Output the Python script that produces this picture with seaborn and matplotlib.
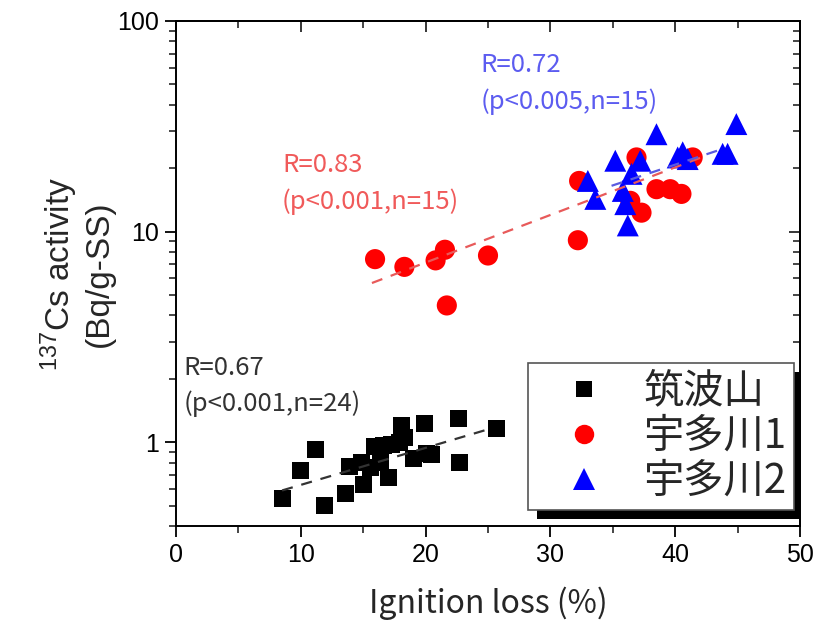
import numpy as np
import pandas as pd
import matplotlib
matplotlib.use("Agg")
import matplotlib.pyplot as plt
import seaborn as sns
from matplotlib.lines import Line2D
from matplotlib.patches import Rectangle
from matplotlib.transforms import IdentityTransform
from matplotlib.ticker import LogLocator, FixedLocator, NullFormatter

# ---------------- data ----------------
groups = ["筑波山", "宇多川1", "宇多川2"]

tsukuba_x = [8.5, 10.0, 11.2, 11.9, 13.6, 13.9, 15.0, 14.9, 15.9, 16.4, 16.6, 17.0,
             17.3, 18.1, 17.9, 19.0, 19.9, 20.5, 20.1, 22.6, 22.7, 25.7, 15.6, 18.3]
tsukuba_y = [0.54, 0.73, 0.92, 0.50, 0.57, 0.77, 0.63, 0.80, 0.95, 0.80, 0.96, 0.68,
             0.97, 1.20, 1.00, 0.84, 1.23, 0.87, 0.88, 1.29, 0.80, 1.16, 0.76, 1.05]

uda1_x = [15.95, 18.3, 20.8, 21.55, 21.7, 25.0, 32.2, 32.3, 36.9, 38.5, 39.6, 40.5,
          41.4, 37.3, 36.4]
uda1_y = [7.4, 6.8, 7.3, 8.2, 4.46, 7.7, 9.1, 17.4, 22.5, 15.9, 15.9, 15.1,
          22.5, 12.3, 14.0]

uda2_x = [33.0, 33.6, 35.2, 37.2, 36.5, 35.8, 36.0, 36.2, 38.5, 40.6, 41.0, 43.8,
          44.2, 44.9, 40.2]
uda2_y = [17.4, 14.3, 21.7, 21.7, 18.8, 15.6, 13.5, 10.7, 29.0, 23.8, 22.1, 23.4,
          23.4, 32.4, 22.5]

# regression line end points
line_x = {"筑波山": [8.5, 25.2], "宇多川1": [15.7, 42.0], "宇多川2": [34.9, 43.8]}
line_y = {"筑波山": [0.59, 1.16], "宇多川1": [5.7, 22.4], "宇多川2": [16.5, 24.7]}

stats_text = {
    "筑波山": ("R=0.67", "(p<0.001,n=24)"),
    "宇多川1": ("R=0.83", "(p<0.001,n=15)"),
    "宇多川2": ("R=0.72", "(p<0.005,n=15)"),
}
text_pos = {"筑波山": (0.6, 2.25, 1.52), "宇多川1": (8.5, 20.6, 13.8), "宇多川2": (24.4, 62.0, 41.5)}

x_ticks = [0, 10, 20, 30, 40, 50]
y_ticks = [1, 10, 100]
y_ticklabels = ["1", "10", "100"]

# ---------------- style ----------------
marker_col = {"筑波山": "#000000", "宇多川1": "#FF0000", "宇多川2": "#0000FF"}
line_col = {"筑波山": "#333333", "宇多川1": "#E85A5A", "宇多川2": "#5A5AE0"}
text_col = {"筑波山": "#333333", "宇多川1": "#F05A5A", "宇多川2": "#5C5CF0"}
markers = {"筑波山": "s", "宇多川1": "o", "宇多川2": "^"}
sizes = {"筑波山": 150, "宇多川1": 210, "宇多川2": 250}

sns.set_theme(style="ticks")
plt.rcParams["font.family"] = ["Liberation Sans", "Noto Sans CJK JP", "DejaVu Sans"]
cjk = ["Noto Sans CJK JP", "DejaVu Sans"]

df = pd.concat([
    pd.DataFrame({"x": tsukuba_x, "y": tsukuba_y, "site": groups[0]}),
    pd.DataFrame({"x": uda1_x, "y": uda1_y, "site": groups[1]}),
    pd.DataFrame({"x": uda2_x, "y": uda2_y, "site": groups[2]}),
], ignore_index=True)

fig = plt.figure(figsize=(8.2, 6.34), dpi=100)
ax = fig.add_axes([176 / 820, 1 - 526 / 634, 624 / 820, 505 / 634])
ax.set_yscale("log")

for g in groups:
    sub = df[df["site"] == g]
    sns.scatterplot(data=sub, x="x", y="y", marker=markers[g], color=marker_col[g],
                    s=sizes[g], edgecolor="none", linewidth=0, legend=False, ax=ax, zorder=3)

for g in groups:
    lx = pd.DataFrame({"x": line_x[g], "y": line_y[g]})
    sns.lineplot(data=lx, x="x", y="y", color=line_col[g], linestyle=(0, (5, 4)),
                 linewidth=1.6, ax=ax, zorder=4)

for g in groups:
    tx, ty1, ty2 = text_pos[g]
    ax.text(tx, ty1, stats_text[g][0], color=text_col[g], fontsize=18.5, family=cjk,
            ha="left", va="center")
    ax.text(tx, ty2, stats_text[g][1], color=text_col[g], fontsize=18.5, family=cjk,
            ha="left", va="center")

ax.set_xlim(0, 50)
ax.set_ylim(0.4, 100)
ax.xaxis.set_major_locator(FixedLocator(x_ticks))
ax.xaxis.set_minor_locator(FixedLocator([5, 15, 25, 35, 45]))
ax.yaxis.set_major_locator(FixedLocator(y_ticks))
ax.set_yticklabels(y_ticklabels)
ax.yaxis.set_minor_locator(LogLocator(base=10, subs=np.arange(2, 10)))
ax.yaxis.set_minor_formatter(NullFormatter())

ax.tick_params(axis="both", which="major", direction="out", length=8, width=1.3,
               labelsize=18, colors="black", pad=4)
ax.tick_params(axis="both", which="minor", direction="out", length=5, width=1.2)
for s in ax.spines.values():
    s.set_linewidth(1.4)
    s.set_color("black")
    s.set_visible(True)

# top / right ticks pointing inward
sx = ax.secondary_xaxis("top")
sx.xaxis.set_major_locator(FixedLocator(x_ticks))
sx.xaxis.set_minor_locator(FixedLocator([5, 15, 25, 35, 45]))
sx.tick_params(which="major", direction="in", length=8, width=1.3, labeltop=False)
sx.tick_params(which="minor", direction="in", length=5, width=1.2)
sx.spines["top"].set_linewidth(1.4)
sy = ax.secondary_yaxis("right")
sy.set_yscale("log")
sy.yaxis.set_major_locator(FixedLocator(y_ticks))
sy.yaxis.set_minor_locator(LogLocator(base=10, subs=np.arange(2, 10)))
sy.yaxis.set_minor_formatter(NullFormatter())
sy.tick_params(which="major", direction="in", length=8, width=1.3, labelright=False)
sy.tick_params(which="minor", direction="in", length=5, width=1.2)
sy.spines["right"].set_linewidth(1.4)

ax.set_xlabel("Ignition loss (%)", fontsize=23, family=["Noto Sans CJK JP", "DejaVu Sans"], labelpad=14)
ax.set_ylabel("$\\mathregular{^{137}}$Cs activity\n(Bq/g-SS)", fontsize=24, labelpad=2,
              linespacing=1.15)

handles = [Line2D([], [], marker=markers[g], color=marker_col[g], linestyle="none",
                  markersize={"筑波山": 12, "宇多川1": 14, "宇多川2": 16}[g], markeredgewidth=0)
           for g in groups]
leg = ax.legend(handles, groups, loc="lower right", bbox_to_anchor=(0.991, 0.032),
                prop={"family": cjk, "size": 29}, frameon=True, fancybox=False,
                edgecolor="#555555", framealpha=1, borderpad=0.2, labelspacing=0.1,
                handletextpad=0.27, handlelength=2.38, borderaxespad=0)
leg.get_frame().set_linewidth(1.2)
leg.set_zorder(10)

fig.canvas.draw()
bb = leg.get_window_extent()
shadow = Rectangle((bb.x0 + 9, bb.y0 - 9), bb.width, bb.height, transform=IdentityTransform(),
                   facecolor="black", edgecolor="none", zorder=9)
ax.add_artist(shadow)

fig.savefig("out.png", dpi=100)
